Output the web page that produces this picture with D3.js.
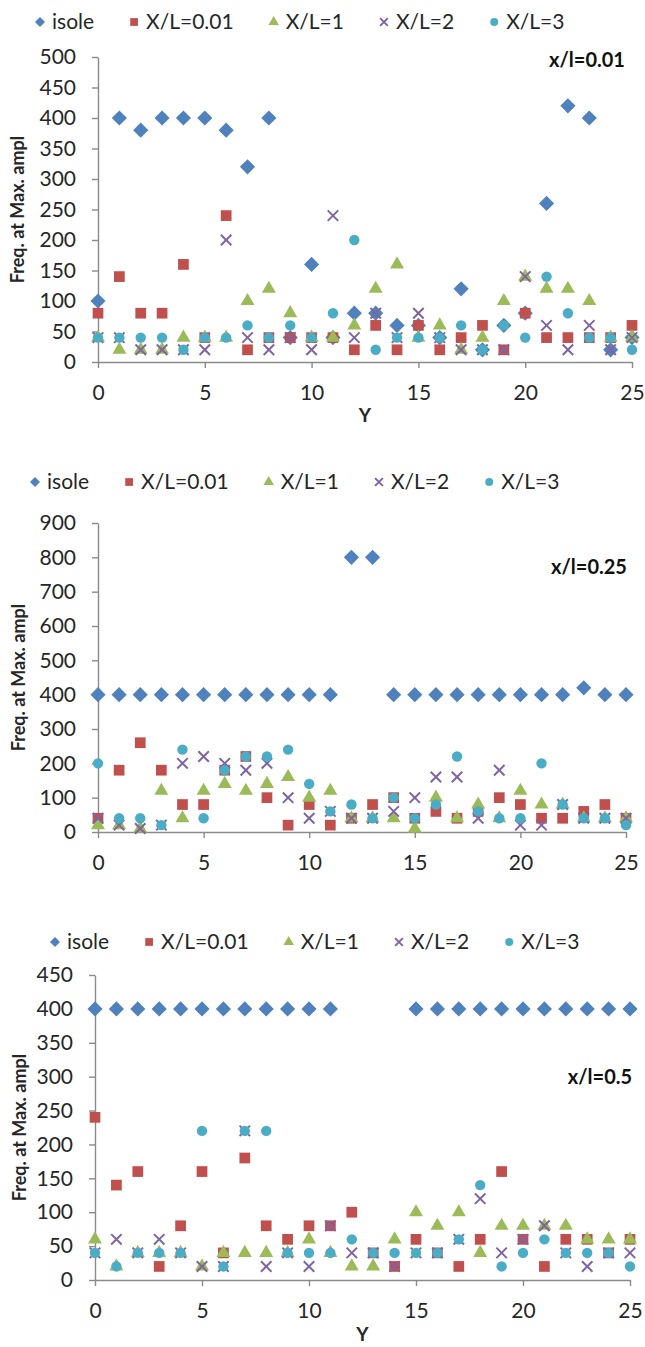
<!DOCTYPE html>
<html>
<head>
<meta charset="utf-8">
<script src="https://cdn.jsdelivr.net/npm/d3@7"></script>
<style>
  html, body { margin: 0; padding: 0; background: #fff; }
  svg { display: block; font-family: Lato, "Open Sans", sans-serif; }
</style>
</head>
<body>
<div id="chart"></div>
<script>
// categories (Y position) and series names
const positions = [0,1,2,3,4,5,6,7,8,9,10,11,12,13,14,15,16,17,18,19,20,21,22,23,24,25];
const seriesNames = ['isole', 'X/L=0.01', 'X/L=1', 'X/L=2', 'X/L=3'];
const xTicks = [0, 5, 10, 15, 20, 25];

// panel 1 : x/l=0.01
const p1Isole = [100,400,380,400,400,400,380,320,400,40,160,40,80,80,60,60,40,120,20,60,80,260,420,400,20,40];
const p1XL001 = [80,140,80,80,160,40,240,20,40,40,40,40,20,60,20,60,20,40,60,20,80,40,40,40,40,60];
const p1XL1   = [40,20,20,20,40,40,40,100,120,80,40,40,60,120,160,40,60,20,40,100,140,120,120,100,40,40];
const p1XL2   = [40,40,20,20,20,20,200,40,20,40,20,240,40,80,40,80,40,20,20,20,140,60,20,60,20,40];
const p1XL3   = [40,40,40,40,20,40,40,60,40,60,40,80,200,20,40,40,40,60,20,60,40,140,80,40,40,20];
const p1Ticks = [0,50,100,150,200,250,300,350,400,450,500];

// panel 2 : x/l=0.25
const p2Isole = [400,400,400,400,400,400,400,400,400,400,400,400,800,800,400,400,400,400,400,400,400,400,400,420,400,400];
const p2XL001 = [40,180,260,180,80,80,180,220,100,20,80,20,40,80,100,40,60,40,60,100,80,40,40,60,80,40];
const p2XL1   = [20,20,10,120,40,120,140,120,140,160,100,120,40,40,40,10,100,40,80,40,120,80,80,40,40,40];
const p2XL2   = [40,20,10,20,200,220,200,180,200,100,40,60,40,40,60,100,160,160,40,180,20,20,80,40,40,40];
const p2XL3   = [200,40,40,20,240,40,180,220,220,240,140,60,80,40,100,40,80,220,60,40,40,200,80,40,40,20];
const p2Ticks = [0,100,200,300,400,500,600,700,800,900];

// panel 3 : x/l=0.5
const p3Isole = [400,400,400,400,400,400,400,400,400,400,400,400,null,null,null,400,400,400,400,400,400,400,400,400,400,400];
const p3XL001 = [240,140,160,20,80,160,40,180,80,60,80,80,100,40,20,60,40,20,60,160,60,20,60,60,40,60];
const p3XL1   = [60,20,40,40,40,20,40,40,40,40,60,40,20,20,60,100,80,100,40,80,80,80,80,60,60,60];
const p3XL2   = [40,60,40,60,40,20,20,220,20,40,20,80,40,40,20,40,40,60,120,40,60,80,40,20,40,40];
const p3XL3   = [40,20,40,40,40,220,20,220,220,40,40,40,60,40,40,40,40,60,140,20,40,60,40,40,40,20];
const p3Ticks = [0,50,100,150,200,250,300,350,400,450];

// styling of each series (Excel 2007 palette)
const styles = [
  { kind: 'diamond',  color: '#4F81BD', size: 115, legendSize: 50 },
  { kind: 'square',   color: '#C0504D', size: 115, legendSize: 60 },
  { kind: 'triangle', color: '#9BBB59', size: 85,  legendSize: 48 },
  { kind: 'cross',    color: '#8064A2', size: 110, legendSize: 60 },
  { kind: 'circle',   color: '#4BACC6', size: 85,  legendSize: 50 }
];

const panels = [
  { label: 'x/l=0.01', series: [p1Isole, p1XL001, p1XL1, p1XL2, p1XL3], ticks: p1Ticks,
    legendY: 22, legendX: 40, x0: 98, x1: 632, yBottom: 362, yTop: 57,
    labelX: 587, labelY: 60, titleX: 18, xTitleY: 415 },
  { label: 'x/l=0.25', series: [p2Isole, p2XL001, p2XL1, p2XL2, p2XL3], ticks: p2Ticks,
    legendY: 482, legendX: 35, x0: 98, x1: 626, yBottom: 832, yTop: 523,
    labelX: 589, labelY: 567, titleX: 19, xTitleY: null },
  { label: 'x/l=0.5', series: [p3Isole, p3XL001, p3XL1, p3XL2, p3XL3], ticks: p3Ticks,
    legendY: 942, legendX: 55, x0: 95, x1: 630, yBottom: 1280, yTop: 975,
    labelX: 600, labelY: 1077, titleX: 20, xTitleY: 1334 }
];

const crossType = {
  draw(ctx, size) {
    const r = Math.sqrt(size) / 2;
    ctx.moveTo(-r, -r); ctx.lineTo(r, r);
    ctx.moveTo(r, -r); ctx.lineTo(-r, r);
  }
};

function drawMarker(g, st, size) {
  let type = d3.symbolSquare;
  if (st.kind === 'triangle') type = d3.symbolTriangle;
  if (st.kind === 'circle') type = d3.symbolCircle;
  if (st.kind === 'cross') type = crossType;
  const p = g.append('path').attr('d', d3.symbol().type(type).size(size)());
  if (st.kind === 'diamond') p.attr('transform', 'rotate(45)');
  if (st.kind === 'cross') {
    p.attr('fill', 'none').attr('stroke', st.color).attr('stroke-width', 2);
  } else {
    p.attr('fill', st.color);
  }
  return p;
}

const svg = d3.select('#chart').append('svg')
  .attr('width', 645)
  .attr('height', 1347);

const textColor = '#262626';
const axisColor = '#8a8a8a';

panels.forEach((p) => {
  const g = svg.append('g');
  const maxVal = p.ticks[p.ticks.length - 1];

  const x = d3.scaleLinear().domain([0, 25]).range([p.x0, p.x1]);
  const y = d3.scaleLinear().domain([0, maxVal]).range([p.yBottom, p.yTop]);

  // legend
  const lg = g.append('g').attr('class', 'legend');
  let lx = p.legendX;
  seriesNames.forEach((name, i) => {
    const item = lg.append('g').attr('transform', 'translate(' + lx + ',' + p.legendY + ')');
    drawMarker(item, styles[i], styles[i].legendSize);
    const t = item.append('text')
      .attr('x', 12)
      .attr('dy', '0.35em')
      .attr('fill', textColor)
      .style('font-size', '21px')
      .text(name);
    lx += 12 + t.node().getComputedTextLength() + 40;
  });

  // y axis
  const yAxis = g.append('g')
    .attr('transform', 'translate(' + p.x0 + ',0)')
    .call(d3.axisLeft(y).tickValues(p.ticks).tickSize(6).tickSizeOuter(0).tickPadding(16));
  // x axis
  const xAxis = g.append('g')
    .attr('transform', 'translate(0,' + p.yBottom + ')')
    .call(d3.axisBottom(x).tickValues(xTicks).tickSize(6).tickSizeOuter(0).tickPadding(17));

  [yAxis, xAxis].forEach((ax) => {
    ax.select('.domain').attr('stroke', axisColor).attr('stroke-width', 1.4);
    ax.selectAll('.tick line').attr('stroke', axisColor).attr('stroke-width', 1.4);
    ax.selectAll('.tick text')
      .attr('fill', textColor)
      .style('font-size', '21px')
      .style('font-family', 'Lato, "Open Sans", sans-serif');
  });

  // y axis title
  g.append('text')
    .attr('transform', 'translate(' + p.titleX + ',' + ((p.yBottom + p.yTop) / 2) + ') rotate(-90)')
    .attr('text-anchor', 'middle')
    .attr('dy', '0.35em')
    .attr('fill', textColor)
    .style('font-size', '18px')
    .style('font-weight', 'bold')
    .text('Freq. at Max. ampl');

  // x axis title
  if (p.xTitleY !== null) {
    g.append('text')
      .attr('x', (p.x0 + p.x1) / 2)
      .attr('y', p.xTitleY)
      .attr('text-anchor', 'middle')
      .attr('dy', '0.35em')
      .attr('fill', textColor)
      .style('font-size', '19px')
      .style('font-weight', 'bold')
      .text('Y');
  }

  // panel label
  g.append('text')
    .attr('x', p.labelX)
    .attr('y', p.labelY)
    .attr('text-anchor', 'middle')
    .attr('dy', '0.35em')
    .attr('fill', '#111')
    .style('font-size', '20px')
    .style('font-weight', 'bold')
    .text(p.label);

  // points, series drawn in order so later ones sit on top
  p.series.forEach((vals, i) => {
    const st = styles[i];
    const sg = g.append('g').attr('class', 'series-' + i);
    positions.forEach((pos, j) => {
      const v = vals[j];
      if (v === null || v === undefined) return;
      const mg = sg.append('g').attr('transform', 'translate(' + x(pos) + ',' + y(v) + ')');
      drawMarker(mg, st, st.size);
    });
  });
});
</script>
</body>
</html>
